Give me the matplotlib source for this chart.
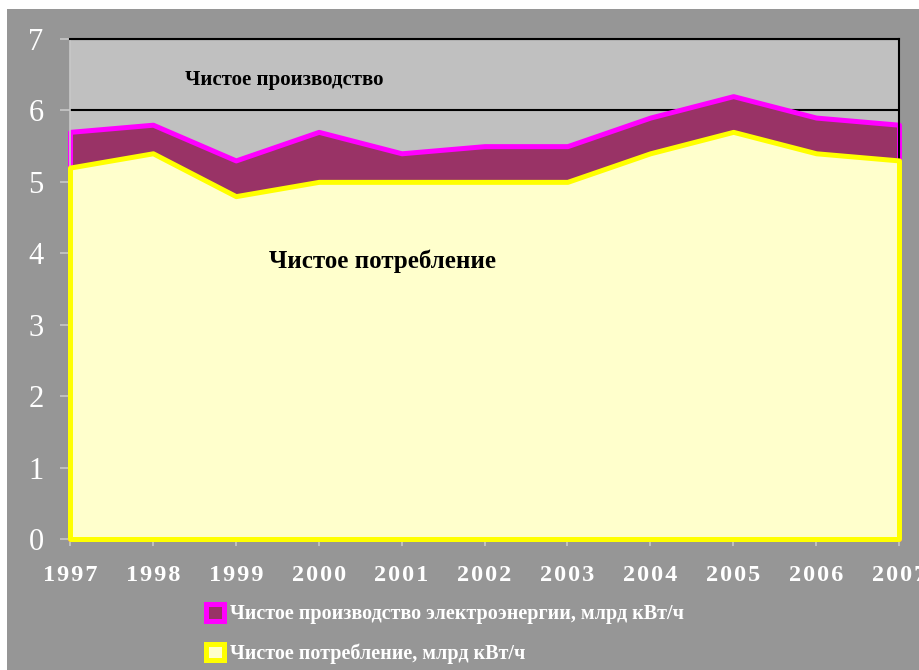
import numpy as np
import matplotlib.pyplot as plt
from matplotlib.patches import Rectangle

years = [1997, 1998, 1999, 2000, 2001, 2002, 2003, 2004, 2005, 2006, 2007]
production = [5.7, 5.8, 5.3, 5.7, 5.4, 5.5, 5.5, 5.9, 6.2, 5.9, 5.8]
consumption = [5.2, 5.4, 4.8, 5.0, 5.0, 5.0, 5.0, 5.4, 5.7, 5.4, 5.3]

label_prod = "Чистое производство электроэнергии, млрд кВт/ч"
label_cons = "Чистое потребление, млрд кВт/ч"

plt.rcParams["font.family"] = ["Liberation Serif", "DejaVu Serif"]

W, H = 920, 670
fig = plt.figure(figsize=(9.2, 6.7), dpi=100, facecolor="white")
# grey chart area background
fig.patches.append(Rectangle((7 / W, 0), 1, 1 - 9 / H, transform=fig.transFigure,
                             facecolor="#969696", edgecolor="none", zorder=-5))

ax = fig.add_axes([70 / W, 131 / H, 829 / W, 500 / H])
ax.set_zorder(2)
ax.set_facecolor("#c0c0c0")

x = np.array(years)
ax.fill_between(x, 0, production, facecolor="#993366", edgecolor="#ff00ff",
                linewidth=3.6, zorder=2, clip_on=False, label=label_prod)
ax.fill_between(x, 0, consumption, facecolor="#ffffcc", edgecolor="#ffff00",
                linewidth=3.6, zorder=3, clip_on=False, label=label_cons)

ax.set_xlim(1997, 2007)
ax.set_ylim(0, 7)
ax.set_yticks(range(0, 8))
ax.set_xticks(years)
# spread digits a little, like the original
ax.set_xticklabels(["\u200a".join(str(y)) for y in years], fontweight="bold")
ax.yaxis.grid(True, color="black", linewidth=1.5)
ax.set_axisbelow(True)

for side in ["top", "right"]:
    ax.spines[side].set_color("black")
    ax.spines[side].set_linewidth(1.5)
for side in ["left", "bottom"]:
    ax.spines[side].set_color("#c8c8c8")
    ax.spines[side].set_linewidth(1.2)

ax.tick_params(axis="y", colors="#c8c8c8", length=7, width=1.2, pad=12,
               labelcolor="white", labelsize=22)
ax.tick_params(axis="x", colors="#c8c8c8", length=5, width=1.2, pad=14,
               labelcolor="white", labelsize=17.5)

fig.text(284 / W, 1 - 80 / H, "Чистое производство", ha="center", va="center",
         fontsize=15, fontweight="bold", color="black", zorder=5)
fig.text(383 / W, 1 - 261 / H, "Чистое потребление", ha="center", va="center",
         fontsize=18, fontweight="bold", color="black", zorder=5)

leg = fig.legend(loc="upper left", bbox_to_anchor=(198 / W, 1 - 596 / H),
                 frameon=False, fontsize=14.5, handlelength=0.9, handleheight=0.9,
                 handletextpad=0.3, labelspacing=0.95, borderaxespad=0)
for t in leg.get_texts():
    t.set_color("white")
    t.set_fontweight("bold")

fig.savefig("out.png", dpi=100, facecolor=fig.get_facecolor())
